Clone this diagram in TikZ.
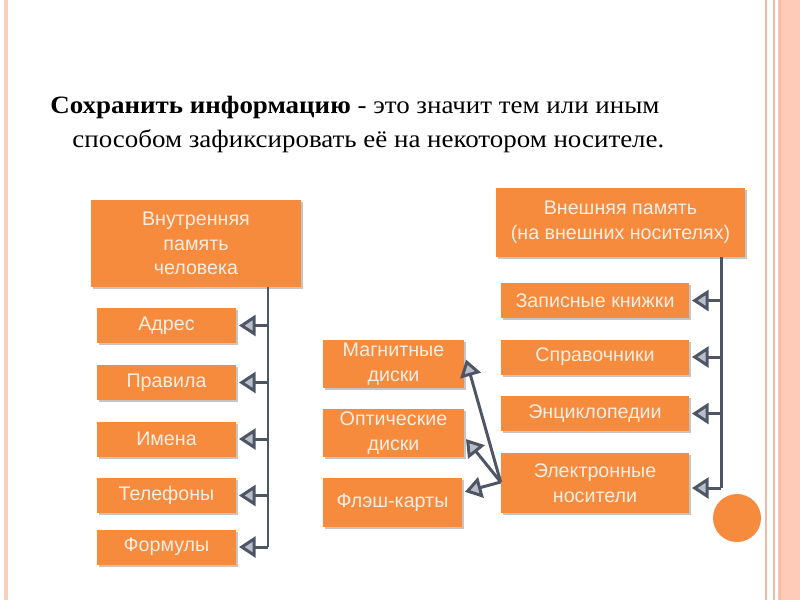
\documentclass[tikz,border=0pt]{standalone}
\usepackage{fontspec}
\setmainfont{Liberation Serif}
\newfontfamily\boxfont{Liberation Sans}
\usetikzlibrary{arrows.meta,calc,shadows}
\definecolor{boxor}{HTML}{F68A3D}
\definecolor{boxtxt}{HTML}{FCEEE2}
\definecolor{conn}{HTML}{4E5666}
\definecolor{tipfill}{HTML}{B9BEC8}
\definecolor{frameA}{HTML}{FACDBD}
\definecolor{frameB}{HTML}{F4B9A3}
\definecolor{frameC}{HTML}{FDCBB8}
\newcommand\px{0.02cm}
\tikzset{
  obox/.style={fill=boxor, draw=none, text=boxtxt, font=\boxfont\fontsize{11.2}{14}\selectfont,
    align=center, inner sep=0pt,
    drop shadow={shadow xshift=1.2pt, shadow yshift=-1.2pt, fill=black!45, opacity=0.5}},
  trunk/.style={draw=conn, line width=1.7pt},
  arr/.style={draw=conn, line width=1.7pt, -{Triangle[width=12pt,length=9.5pt,fill=tipfill]}, shorten >=1.5pt},
  ttl/.style={anchor=base west, inner sep=0pt, font=\fontsize{14.2}{17}\selectfont, xscale=1.08},
}
\begin{document}
\begin{tikzpicture}[x=\px, y=-\px]
\useasboundingbox (0,0) rectangle (800,600);
% frame
\draw[frameA, line width=1.8pt] (6,0) -- (6,600);
\draw[frameB, line width=1pt] (766,0) -- (766,600);
\draw[frameB, line width=1.2pt] (774,0) -- (774,600);
\fill[frameC] (778,0) rectangle (800,600);
\draw[frameB, line width=1.6pt] (780,0) -- (780,600);
% title
\node[ttl] (t1) at (50,113) {\textbf{Сохранить информацию} - это значит тем или иным};
\node[ttl] (t2) at (72,147) {способом зафиксировать её на некотором носителе.};
% left column
\node[obox, minimum width=210*\px, minimum height=87*\px] (lt) at (196,243.5) {Внутренняя\\память\\человека};
\node[obox, minimum width=139*\px, minimum height=35*\px] (a) at (166.5,325.5) {Адрес};
\node[obox, minimum width=139*\px, minimum height=35*\px] (b) at (166.5,382.5) {Правила};
\node[obox, minimum width=139*\px, minimum height=35*\px] (c) at (166.5,439) {Имена};
\node[obox, minimum width=139*\px, minimum height=35*\px] (d) at (166.5,495.5) {Телефоны};
\node[obox, minimum width=139*\px, minimum height=35*\px] (e) at (166.5,547) {Формулы};
\coordinate (tl) at (268,0);
\draw[trunk] (lt.south -| tl) -- (e.east -| tl);
\foreach \n in {a,b,c,d,e}{\draw[arr] (\n.east -| tl) -- (\n.east);}
% middle column
\node[obox, minimum width=141*\px, minimum height=48*\px] (m) at (393.5,364) {Магнитные\\диски};
\node[obox, minimum width=141*\px, minimum height=48*\px] (o) at (393.5,433) {Оптические\\диски};
\node[obox, minimum width=139*\px, minimum height=49*\px] (f) at (392.5,502.5) {Флэш-карты};
% right column
\node[obox, minimum width=249*\px, minimum height=69*\px] (rt) at (620.5,222.5) {Внешняя память\\(на внешних носителях)};
\node[obox, minimum width=188*\px, minimum height=35*\px] (z) at (595,300.5) {Записные книжки};
\node[obox, minimum width=188*\px, minimum height=35*\px] (s) at (595,357) {Справочники};
\node[obox, minimum width=188*\px, minimum height=35*\px] (en) at (595,413.5) {Энциклопедии};
\node[obox, minimum width=188*\px, minimum height=60*\px] (el) at (595,483) {Электронные\\носители};
\coordinate (tr) at (721,0);
\coordinate (elin) at ($(el.east)+(0,5)$);
\draw[trunk] (rt.south -| tr) -- (elin -| tr);
\foreach \n in {z,s,en}{\draw[arr] (\n.east -| tr) -- (\n.east);}
\draw[arr] (elin -| tr) -- (elin);
% electronic -> middle
\coordinate (src) at ($(el.west)+(0,-1)$);
\draw[arr] (src) -- ($(m.east)+(1,-7)$);
\draw[arr] (src) -- ($(o.east)+(0,4)$);
\draw[arr] (src) -- ($(f.east)+(0,-10)$);
% decorative circle
\fill[boxor] (737,518) circle (24);
\end{tikzpicture}
\end{document}
